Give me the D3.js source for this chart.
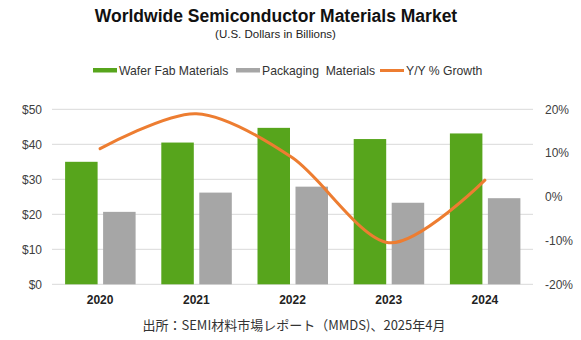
<!DOCTYPE html>
<html>
<head>
<meta charset="utf-8">
<script src="https://cdn.jsdelivr.net/npm/d3@7"></script>
<style>
  body { margin: 0; background: #fff; }
  svg { font-family: "Liberation Sans", Arial, sans-serif; }
</style>
</head>
<body>
<div id="chart"></div>
<script>
// data
const years = ['2020', '2021', '2022', '2023', '2024'];
const waferFab = [35.0, 40.5, 44.7, 41.5, 43.1];
const packaging = [20.7, 26.2, 27.9, 23.3, 24.6];
const growth = [11.0, 19.0, 8.9, -10.5, 3.8];
const leftTicks = [0, 10, 20, 30, 40, 50];
const rightTicks = [-20, -10, 0, 10, 20];

const width = 581, height = 340;
const plotLeft = 52, plotRight = 533, plotTop = 109.3, plotBottom = 284.3;

const svg = d3.select('#chart')
    .append('svg')
    .attr('width', width)
    .attr('height', height);

const xScale = d3.scaleBand().domain(years).range([plotLeft, plotRight]);
const yScale = d3.scaleLinear().domain([0, 50]).range([plotBottom, plotTop]);
const y2Scale = d3.scaleLinear().domain([-20, 20]).range([plotBottom, plotTop]);

// title
svg.append('text')
    .attr('x', 276).attr('y', 22)
    .attr('text-anchor', 'middle')
    .attr('font-size', 17.5)
    .attr('font-weight', 'bold')
    .attr('fill', '#111')
    .text('Worldwide Semiconductor Materials Market');

svg.append('text')
    .attr('x', 275.5).attr('y', 38)
    .attr('text-anchor', 'middle')
    .attr('font-size', 11.5)
    .attr('fill', '#222')
    .text('(U.S. Dollars in Billions)');

// legend
const legend = [
    {label: 'Wafer Fab Materials', color: '#57a51c', x: 93, type: 'bar'},
    {label: 'Packaging  Materials', color: '#a6a6a6', x: 236, type: 'bar'},
    {label: 'Y/Y % Growth', color: '#ed7d31', x: 380, type: 'line'}
];
const lg = svg.append('g').attr('class', 'legend');
legend.forEach(d => {
    lg.append('rect')
        .attr('x', d.x).attr('y', d.type === 'bar' ? 68 : 69)
        .attr('width', 24).attr('height', d.type === 'bar' ? 4.5 : 3)
        .attr('fill', d.color);
    lg.append('text')
        .attr('x', d.x + 26).attr('y', 75)
        .attr('font-size', 12.2)
        .attr('fill', '#333')
        .style('white-space', 'pre')
        .text(d.label);
});

// grid lines
svg.append('g')
    .selectAll('line')
    .data(leftTicks)
    .join('line')
    .attr('x1', plotLeft).attr('x2', plotRight)
    .attr('y1', d => yScale(d)).attr('y2', d => yScale(d))
    .attr('stroke', '#d9d9d9')
    .attr('stroke-width', 1);

// left axis
const yAxis = d3.axisLeft(yScale).tickValues(leftTicks).tickSize(0).tickPadding(10)
    .tickFormat(d => '$' + d);
svg.append('g')
    .attr('transform', `translate(${plotLeft},0)`)
    .call(yAxis)
    .call(g => g.select('.domain').remove())
    .selectAll('text')
    .attr('font-size', 12)
    .attr('font-family', '"Liberation Sans", Arial, sans-serif')
    .attr('fill', '#404040');

// right axis
const y2Axis = d3.axisRight(y2Scale).tickValues(rightTicks).tickSize(0).tickPadding(12)
    .tickFormat(d => d + '%');
svg.append('g')
    .attr('transform', `translate(${plotRight},0)`)
    .call(y2Axis)
    .call(g => g.select('.domain').remove())
    .selectAll('text')
    .attr('font-size', 12)
    .attr('font-family', '"Liberation Sans", Arial, sans-serif')
    .attr('fill', '#404040');

// x axis
const xAxis = d3.axisBottom(xScale).tickSize(0).tickPadding(11);
svg.append('g')
    .attr('transform', `translate(0,${plotBottom})`)
    .call(xAxis)
    .call(g => g.select('.domain').remove())
    .selectAll('text')
    .attr('font-size', 12)
    .attr('font-weight', 'bold')
    .attr('font-family', '"Liberation Sans", Arial, sans-serif')
    .attr('fill', '#222');

// bars
const barW = 32.5;
svg.append('g')
    .selectAll('rect')
    .data(years)
    .join('rect')
    .attr('x', (d) => xScale(d) + xScale.bandwidth() / 2 - 35)
    .attr('y', (d, i) => yScale(waferFab[i]))
    .attr('width', barW)
    .attr('height', (d, i) => yScale(0) - yScale(waferFab[i]))
    .attr('fill', '#57a51c');

svg.append('g')
    .selectAll('rect')
    .data(years)
    .join('rect')
    .attr('x', (d) => xScale(d) + xScale.bandwidth() / 2 + 3)
    .attr('y', (d, i) => yScale(packaging[i]))
    .attr('width', barW)
    .attr('height', (d, i) => yScale(0) - yScale(packaging[i]))
    .attr('fill', '#a6a6a6');

// growth line
const line = d3.line()
    .x((d, i) => xScale(years[i]) + xScale.bandwidth() / 2)
    .y(d => y2Scale(d))
    .curve(d3.curveCardinal.tension(0.1));
svg.append('path')
    .datum(growth)
    .attr('d', line)
    .attr('fill', 'none')
    .attr('stroke', '#ed7d31')
    .attr('stroke-width', 3)
    .attr('stroke-linecap', 'round');

// source note
svg.append('text')
    .attr('x', 294).attr('y', 330)
    .attr('text-anchor', 'middle')
    .attr('font-size', 13)
    .attr('font-family', '"Noto Sans CJK JP", "Noto Sans", sans-serif')
    .attr('fill', '#333')
    .text('出所：SEMI材料市場レポート（MMDS)、2025年4月');
</script>
</body>
</html>
